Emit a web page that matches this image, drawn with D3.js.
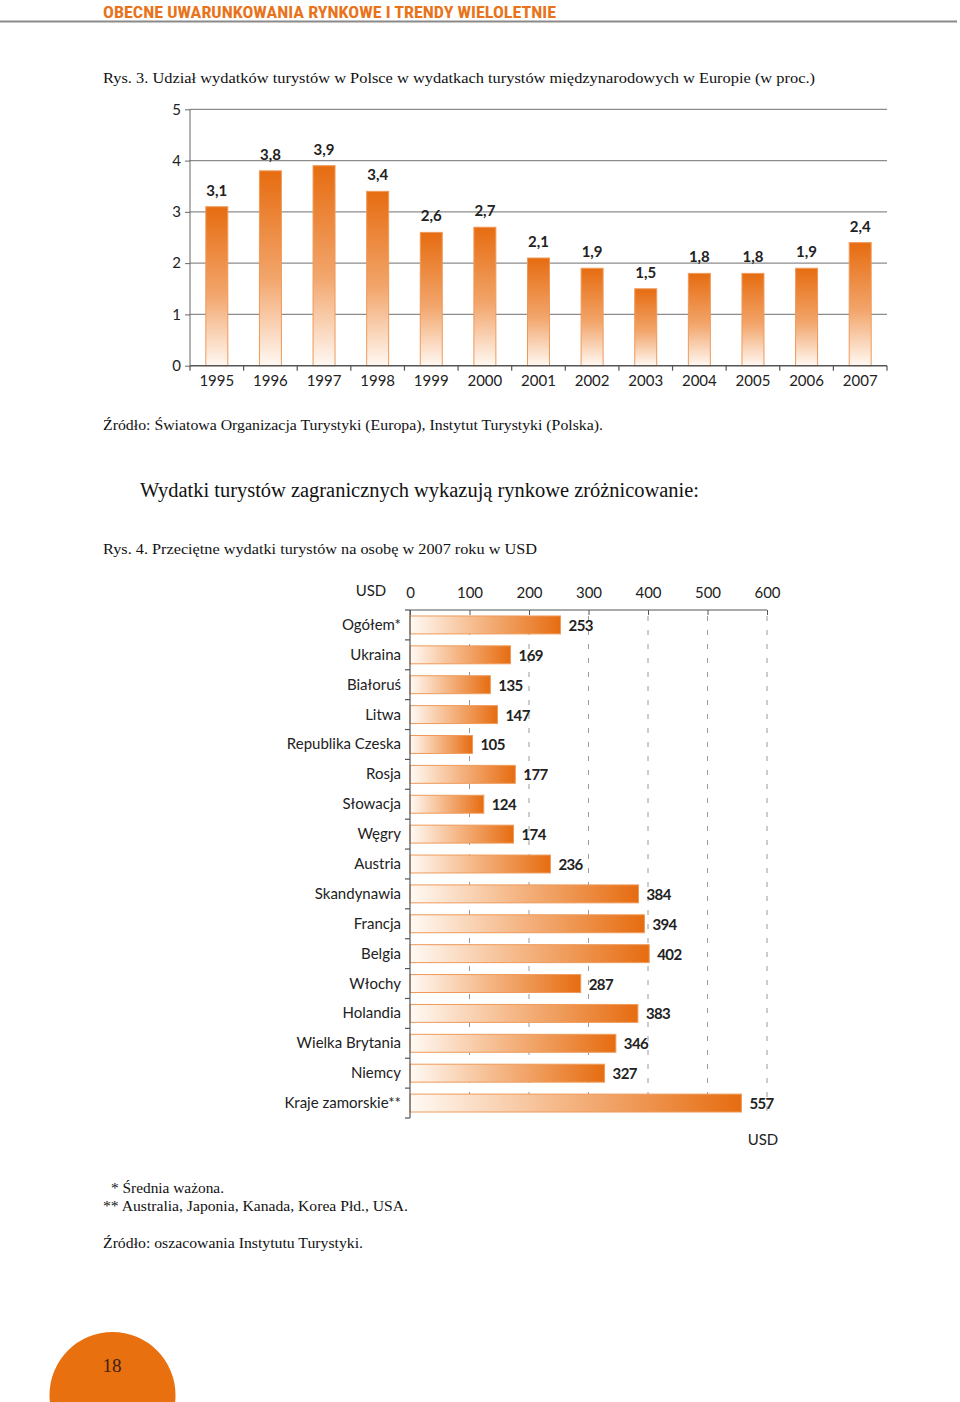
<!DOCTYPE html>
<html><head><meta charset="utf-8">
<script src="https://cdn.jsdelivr.net/npm/d3@7"></script>
<style>body{margin:0;background:#fff}svg{display:block}</style>
</head><body>
<script>
// ---- Data ----
const years = ['1995','1996','1997','1998','1999','2000','2001','2002','2003','2004','2005','2006','2007'];
const shares = [3.1,3.8,3.9,3.4,2.6,2.7,2.1,1.9,1.5,1.8,1.8,1.9,2.4];
const shareTicks = [0,1,2,3,4,5];

const countries = ['Ogółem*','Ukraina','Białoruś','Litwa','Republika Czeska','Rosja','Słowacja','Węgry','Austria','Skandynawia','Francja','Belgia','Włochy','Holandia','Wielka Brytania','Niemcy','Kraje zamorskie**'];
const spending = [253,169,135,147,105,177,124,174,236,384,394,402,287,383,346,327,557];
const usdTicks = [0,100,200,300,400,500,600];

const ORANGE = '#e8700f';
const sans = 'Lato, "Open Sans", sans-serif';
const serif = '"Liberation Serif", "DejaVu Serif", serif';

const svg = d3.select('body').append('svg').attr('width',960).attr('height',1402);
const defs = svg.append('defs');
const g1 = defs.append('linearGradient').attr('id','gv').attr('x1',0).attr('y1',0).attr('x2',0).attr('y2',1);
g1.append('stop').attr('offset','0%').attr('stop-color','#e66c10');
g1.append('stop').attr('offset','55%').attr('stop-color','#f2a56b');
g1.append('stop').attr('offset','100%').attr('stop-color','#fff8f2');
const g2 = defs.append('linearGradient').attr('id','gh').attr('x1',0).attr('y1',0).attr('x2',1).attr('y2',0);
g2.append('stop').attr('offset','0%').attr('stop-color','#fffaf5');
g2.append('stop').attr('offset','45%').attr('stop-color','#f5b888');
g2.append('stop').attr('offset','100%').attr('stop-color','#e66c10');

// ---- Header ----
svg.append('text').attr('x',103).attr('y',18).attr('fill','#e8731a')
  .attr('font-family','"Liberation Sans Narrow", "Roboto Condensed", Roboto, sans-serif')
  .attr('font-weight','bold').attr('font-size',17)
  .attr('textLength',453).attr('lengthAdjust','spacingAndGlyphs')
  .text('OBECNE UWARUNKOWANIA RYNKOWE I TRENDY WIELOLETNIE');
svg.append('line').attr('x1',0).attr('x2',957).attr('y1',21.5).attr('y2',21.5)
  .attr('stroke','#8a8a8a').attr('stroke-width',2);

function serifText(x,y,size,len,txt){
  svg.append('text').attr('x',x).attr('y',y).attr('font-family',serif).attr('font-size',size)
    .attr('fill','#111').attr('textLength',len).attr('lengthAdjust','spacingAndGlyphs').text(txt);
}
serifText(103,83,15,712,'Rys. 3. Udział wydatków turystów w Polsce w wydatkach turystów międzynarodowych w Europie (w proc.)');
serifText(103,430,15,500,'Źródło: Światowa Organizacja Turystyki (Europa), Instytut Turystyki (Polska).');
serifText(140,497,20,559,'Wydatki turystów zagranicznych wykazują rynkowe zróżnicowanie:');
serifText(103,554,15,434,'Rys. 4. Przeciętne wydatki turystów na osobę w 2007 roku w USD');
serifText(111,1193,15,113,'* Średnia ważona.');
serifText(103,1211,15,305,'** Australia, Japonia, Kanada, Korea Płd., USA.');
serifText(103,1248,15,260,'Źródło: oszacowania Instytutu Turystyki.');

// ---- Chart 1 ----
const x1 = d3.scaleBand().domain(years).range([190,887]).paddingInner(0.59).paddingOuter(0.295);
const y1 = d3.scaleLinear().domain([0,5]).range([365.7,109.3]);
const c1 = svg.append('g');
c1.selectAll('.grid').data(shareTicks.filter(d=>d>0)).join('line')
  .attr('x1',190).attr('x2',887).attr('y1',d=>y1(d)).attr('y2',d=>y1(d))
  .attr('stroke','#8c8c8c').attr('stroke-width',1.3);
c1.selectAll('.bar').data(shares).join('rect')
  .attr('x',(d,i)=>x1(years[i])).attr('width',x1.bandwidth())
  .attr('y',d=>y1(d)).attr('height',d=>y1(0)-y1(d))
  .attr('fill','url(#gv)').attr('stroke','#ef9a5a').attr('stroke-width',1);
const ya = d3.axisLeft(y1).tickValues(shareTicks).tickSize(5).tickFormat(d3.format('d'));
const yaG = c1.append('g').attr('transform','translate(190,0)').call(ya);
yaG.select('.domain').attr('stroke','#666').attr('d','M0,'+y1(5)+'V'+y1(0));
yaG.selectAll('.tick line').attr('stroke','#666');
yaG.selectAll('.tick text').attr('font-family',sans).attr('font-size',15).attr('fill','#222').attr('x',-9);
c1.append('line').attr('x1',190).attr('x2',887).attr('y1',y1(0)).attr('y2',y1(0)).attr('stroke','#555').attr('stroke-width',1.5);
const bounds = d3.range(years.length+1).map(i=>x1.range()[0]+i*x1.step());
c1.selectAll('.bt').data(bounds).join('line')
  .attr('x1',d=>d).attr('x2',d=>d).attr('y1',y1(0)).attr('y2',y1(0)+5).attr('stroke','#555').attr('stroke-width',1.2);
c1.selectAll('.yl').data(years).join('text')
  .attr('x',d=>x1(d)+x1.bandwidth()/2).attr('y',386).attr('text-anchor','middle')
  .attr('font-family',sans).attr('font-size',15).attr('fill','#222').text(d=>d);
const fmt1 = d=>d3.format('.1f')(d).replace('.',',');
c1.selectAll('.vl').data(shares).join('text')
  .attr('x',(d,i)=>x1(years[i])+x1.bandwidth()/2).attr('y',d=>y1(d)-11).attr('text-anchor','middle')
  .attr('font-family',sans).attr('font-weight','bold').attr('font-size',15).attr('fill','#222').text(fmt1);

// ---- Chart 2 ----
const x2 = d3.scaleLinear().domain([0,600]).range([410,767]);
const y2 = d3.scaleBand().domain(countries).range([610,1118]).paddingInner(0.4).paddingOuter(0.2);
const c2 = svg.append('g');
c2.selectAll('.dl').data(usdTicks.filter(d=>d>0)).join('line')
  .attr('x1',d=>x2(d)).attr('x2',d=>x2(d)).attr('y1',616).attr('y2',1118)
  .attr('stroke','#9a9a9a').attr('stroke-width',1).attr('stroke-dasharray','5,9');
c2.selectAll('.hb').data(spending).join('rect')
  .attr('x',x2(0)).attr('y',(d,i)=>y2(countries[i])).attr('height',y2.bandwidth())
  .attr('width',d=>x2(d)-x2(0))
  .attr('fill','url(#gh)').attr('stroke','#ef9a5a').attr('stroke-width',1);
const xa = d3.axisTop(x2).tickValues(usdTicks).tickSize(-5).tickFormat(d3.format('d'));
const xaG = c2.append('g').attr('transform','translate(0,610)').call(xa);
xaG.select('.domain').attr('stroke','#555').attr('d','M'+x2(0)+',0H'+x2(600));
xaG.selectAll('.tick line').attr('stroke','#555');
xaG.selectAll('.tick text').attr('font-family',sans).attr('font-size',15).attr('fill','#222').attr('y',-12);
c2.append('line').attr('x1',x2(0)).attr('x2',x2(0)).attr('y1',610).attr('y2',1118).attr('stroke','#555').attr('stroke-width',1.2);
const b2 = d3.range(countries.length+1).map(i=>y2.range()[0]+i*y2.step());
c2.selectAll('.lt').data(b2).join('line')
  .attr('x1',x2(0)-5).attr('x2',x2(0)).attr('y1',d=>d).attr('y2',d=>d).attr('stroke','#555').attr('stroke-width',1.2);
c2.selectAll('.cl').data(countries).join('text')
  .attr('x',401).attr('y',d=>y2(d)+y2.bandwidth()/2+5).attr('text-anchor','end')
  .attr('font-family',sans).attr('font-size',15).attr('fill','#222').text(d=>d);
c2.selectAll('.vl2').data(spending).join('text')
  .attr('x',d=>x2(d)+8).attr('y',(d,i)=>y2(countries[i])+y2.bandwidth()/2+6)
  .attr('font-family',sans).attr('font-weight','bold').attr('font-size',15).attr('letter-spacing','-0.6')
  .attr('fill','#222').text(d=>d);
c2.append('text').attr('x',371).attr('y',596).attr('text-anchor','middle')
  .attr('font-family',sans).attr('font-size',15).attr('fill','#222').text('USD');
c2.append('text').attr('x',763).attr('y',1145).attr('text-anchor','middle')
  .attr('font-family',sans).attr('font-size',15).attr('fill','#222').text('USD');

// ---- Page number ----
svg.append('circle').attr('cx',112.5).attr('cy',1395).attr('r',63).attr('fill',ORANGE);
svg.append('text').attr('x',112).attr('y',1372).attr('text-anchor','middle')
  .attr('font-family',serif).attr('font-size',19).attr('fill','#3a2010').text('18');
</script>
</body></html>
